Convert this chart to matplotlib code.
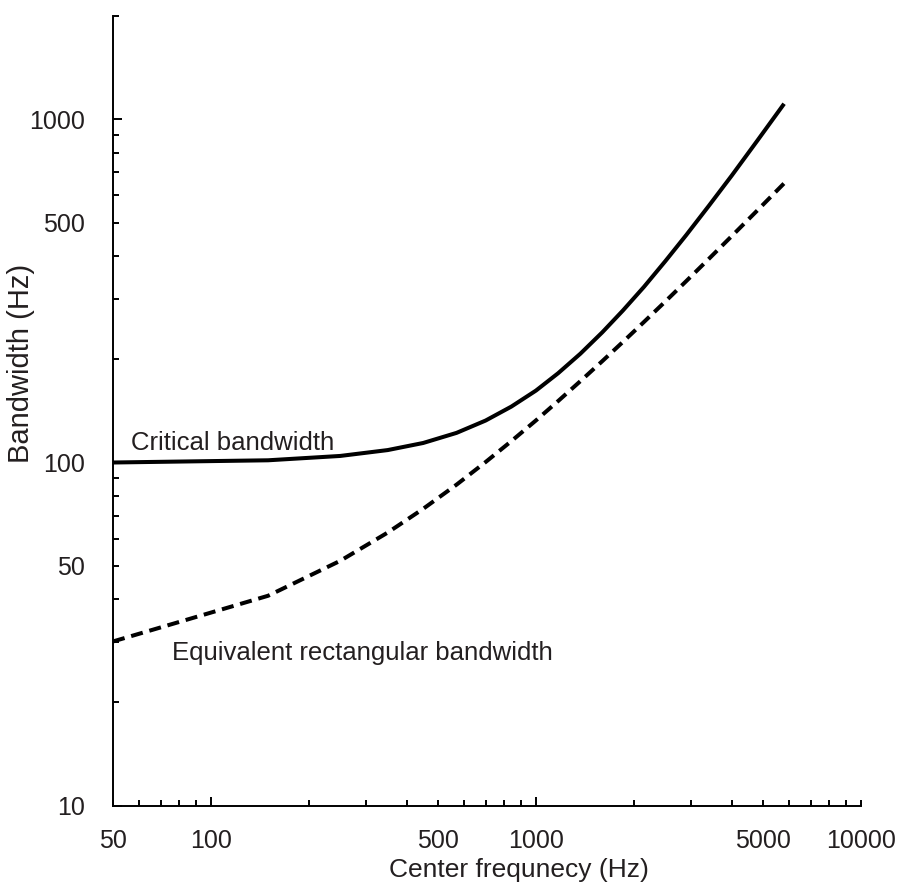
import matplotlib
matplotlib.use("Agg")
import matplotlib.pyplot as plt
from matplotlib.ticker import FixedLocator, FuncFormatter

plt.rcParams['font.family'] = ['Liberation Sans', 'DejaVu Sans']

# centre frequencies (Hz)
freq = [50, 150, 250, 350, 450, 570, 700, 840, 1000, 1170, 1370, 1600,
        1850, 2150, 2500, 2900, 3400, 4000, 4800, 5800]
# critical bandwidth (Hz)
cb = [100, 101.5, 104.5, 108.7, 114, 122, 132.5, 145.5, 162, 182, 207.5, 239.5,
      277, 325, 386, 460, 559, 685, 867, 1110]
# equivalent rectangular bandwidth (Hz)
erb = [30.1, 40.9, 51.7, 62.5, 73.3, 86.2, 100.3, 115.4, 132.6, 151, 172.6, 197.4,
       224.4, 256.8, 294.5, 337.7, 391.7, 456.5, 542.8, 650.8]

x_labeled = [50, 100, 500, 1000, 5000, 10000]
y_labeled = [10, 50, 100, 500, 1000]

txt = '#231f20'

fig = plt.figure(figsize=(8.98, 8.88), dpi=100)
ax = fig.add_axes([113 / 898, 1 - 805.7 / 888, 748 / 898, 789.7 / 888])

ax.plot(freq, cb, color='black', lw=2.9, solid_capstyle='butt')
ax.plot(freq, erb, color='black', lw=2.9, linestyle=(0, (3.0, 1.7)))

ax.set_xscale('log')
ax.set_yscale('log')
ax.set_xlim(50, 10000)
ax.set_ylim(10, 2000)

for s in ['top', 'right']:
    ax.spines[s].set_visible(False)
for s in ['left', 'bottom']:
    ax.spines[s].set_linewidth(1.4)

# ticks
ax.xaxis.set_major_locator(FixedLocator([100, 1000]))
ax.xaxis.set_minor_locator(FixedLocator([50, 60, 70, 80, 90, 200, 300, 400, 500, 600, 700, 800, 900,
                                         2000, 3000, 4000, 5000, 6000, 7000, 8000, 9000, 10000]))
ax.yaxis.set_major_locator(FixedLocator([10, 100, 1000]))
ax.yaxis.set_minor_locator(FixedLocator([20, 30, 40, 50, 60, 70, 80, 90,
                                         200, 300, 400, 500, 600, 700, 800, 900, 2000]))

fmt_x = FuncFormatter(lambda v, p: '%d' % round(v) if round(v) in x_labeled else '')
fmt_y = FuncFormatter(lambda v, p: '%d' % round(v) if round(v) in y_labeled else '')
ax.xaxis.set_major_formatter(fmt_x)
ax.xaxis.set_minor_formatter(fmt_x)
ax.yaxis.set_major_formatter(fmt_y)
ax.yaxis.set_minor_formatter(fmt_y)

ax.tick_params(which='both', direction='in', labelsize=18, labelcolor=txt, width=1.4)
ax.tick_params(which='major', length=6.5)
ax.tick_params(which='minor', length=4)
ax.tick_params(axis='x', which='both', pad=17)
ax.tick_params(axis='y', which='both', pad=20.5)

ax.set_xlabel('Center frequnecy (Hz)', fontsize=19, color=txt)
ax.set_ylabel('Bandwidth (Hz)', fontsize=21, color=txt)
ax.xaxis.set_label_coords(0.543, -0.066)
ax.yaxis.set_label_coords(-0.104, 0.56)

ax.text(57, 109, 'Critical bandwidth', fontsize=18.5, color=txt, va='baseline')
ax.text(76, 26.6, 'Equivalent rectangular bandwidth', fontsize=18.5, color=txt, va='baseline')

fig.savefig('out.png', dpi=100)
